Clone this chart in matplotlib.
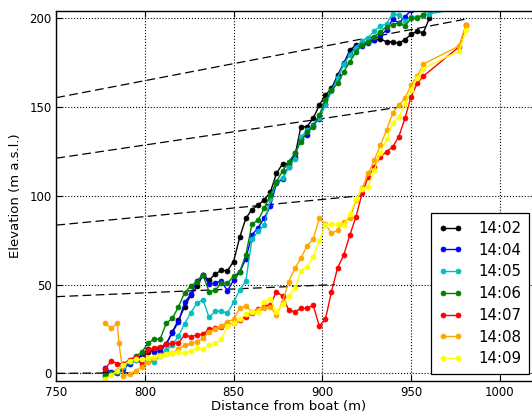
import matplotlib
matplotlib.use('Agg')
import matplotlib.pyplot as plt

plt.rcParams['font.family'] = ['DejaVu Sans']

# distance from boat (m), common sampling of the profiles
dist = [777.50, 780.95, 784.40, 787.85, 791.30, 794.75, 798.20, 801.65, 805.10, 808.55,
        812.00, 815.45, 818.90, 822.35, 825.80, 829.25, 832.70, 836.15, 839.60, 843.05,
        846.50, 849.95, 853.40, 856.85, 860.30, 863.75, 867.20, 870.65, 874.10, 877.55,
        881.00, 884.45, 887.90, 891.35, 894.80, 898.25, 901.70, 905.15, 908.60, 912.05,
        915.50, 918.95, 922.40, 925.85, 929.30, 932.75, 936.20, 939.65, 943.10, 946.55,
        950.00, 953.45, 956.90, 960.35, 963.80, 967.25]

# elevation (m a.s.l.) per time
elev_1402 = [0.5, 0.4, 1.5, 4.3, 7.0, 8.5, 10.0, 12.0, 13.0, 14.5,
             16.5, 23.5, 30.0, 37.5, 44.0, 49.0, 55.4, 52.5, 56.0, 58.0,
             57.8, 63.0, 76.6, 87.3, 92.3, 94.8, 97.6, 102.0, 112.6, 118.0,
             118.0, 122.0, 139.0, 139.0, 143.6, 151.0, 156.7, 160.5, 168.0, 174.6,
             182.0, 185.0, 186.0, 186.8, 187.7, 188.3, 186.8, 186.8, 186.0, 188.0,
             190.9, 192.8, 191.8, 200.0, 208.5]
elev_1404 = [3.2, 0.5, 0.0, 2.5, 5.5, 7.5, 9.5, 14.0, 12.0, 12.5,
             16.5, 23.0, 29.0, 40.0, 44.5, 52.0, 55.5, 50.5, 51.0, 52.0,
             46.5, 52.5, 57.0, 64.5, 78.0, 82.0, 87.5, 94.0, 107.0, 109.5,
             116.5, 124.0, 132.0, 134.5, 140.0, 143.5, 152.0, 159.5, 167.0, 174.5,
             180.0, 183.9, 184.3, 186.1, 188.0, 190.5, 193.3, 199.5, 197.4, 200.8,
             204.5, 210.0]
elev_1405 = [-1.9, -0.5, 0.5, 3.8, 6.6, 7.5, 7.5, 7.0, 6.6, 9.8,
             13.1, 16.0, 21.0, 28.0, 34.0, 39.5, 41.5, 31.5, 35.0, 35.0,
             34.0, 40.0, 47.0, 52.0, 75.5, 80.0, 83.5, 98.0, 108.0, 110.0,
             116.0, 121.0, 133.0, 137.0, 139.5, 144.0, 151.0, 159.0, 166.5, 174.0,
             179.5, 183.5, 187.5, 189.0, 193.0, 195.5, 197.0, 202.7, 201.8, 198.6,
             200.5, 201.0, 201.8, 202.5]
elev_1406 = [-0.9, 0.0, 1.0, 5.0, 7.5, 9.5, 12.0, 16.9, 19.3, 19.3,
             28.2, 31.0, 37.5, 45.4, 49.2, 51.6, 55.4, 46.0, 46.9, 50.7,
             50.7, 54.8, 57.2, 66.6, 84.1, 86.3, 92.9, 100.4, 108.0, 113.9,
             119.2, 123.9, 130.5, 136.1, 138.9, 145.5, 153.9, 159.6, 163.3, 169.9,
             175.5, 181.1, 184.9, 186.8, 189.6, 192.4, 195.2, 196.5, 197.5, 195.6,
             199.9, 199.9, 201.8, 206.0, 211.0]
elev_1407 = [2.5, 7.0, 5.5, 5.5, 7.5, 9.0, 5.0, 13.0, 14.5, 15.0,
             16.5, 16.9, 17.2, 21.6, 20.6, 21.6, 22.0, 25.0, 25.5, 26.0,
             27.0, 28.2, 30.0, 32.0, 34.0, 36.5, 37.9, 38.5, 46.0, 43.5,
             35.7, 34.7, 36.6, 36.6, 38.5, 26.7, 30.4, 46.0, 59.5, 66.6,
             77.9, 88.2, 101.4, 110.7, 116.4, 122.0, 124.8, 127.6, 133.3, 143.6,
             155.8, 163.3, 167.4]
elev_1408 = [28.5, 25.3, 28.2, -1.5, -0.4, 1.5, 3.8, 6.6, 8.4, 10.3,
             10.8, 11.6, 13.5, 16.0, 16.9, 17.8, 19.7, 23.5, 24.8, 26.7,
             29.1, 30.4, 36.6, 37.9, 34.7, 35.7, 36.6, 37.5, 32.8, 40.4,
             51.6, 59.1, 64.8, 71.9, 75.5, 87.3, 84.1, 78.8, 80.7, 85.4,
             87.3, 97.6, 104.2, 112.6, 120.1, 128.6, 137.0, 146.4, 151.1, 154.9,
             162.4, 167.4, 174.2]
elev_1409 = [-3.2, -1.0, 1.5, 4.5, 7.1, 7.9, 7.9, 8.4, 9.0, 9.8,
             10.9, 11.6, 12.2, 11.3, 12.8, 14.1, 13.5, 16.0, 16.9, 19.1,
             26.7, 28.2, 30.4, 33.4, 34.7, 34.7, 40.4, 41.7, 34.7, 39.0,
             43.5, 47.9, 57.8, 60.1, 65.7, 74.7, 83.5, 84.1, 84.1, 83.5,
             89.7, 98.0, 103.6, 105.1, 114.5, 124.3, 131.8, 141.2, 144.2, 152.0,
             159.6, 166.1, 171.7]

# extra points off the common sampling
tail_1405 = ([990.0], [208.0])
drop_1408 = (785.3, 17.3)
tail_dist = [977.2, 981.0]
tail_1407 = [184.0, 196.1]
tail_1408 = [184.5, 196.5]
tail_1409 = [181.7, 193.3]

times = ['14:02', '14:04', '14:05', '14:06', '14:07', '14:08', '14:09']
colours = ['k', 'b', '#00bfbf', '#008000', 'r', '#ffa500', '#ffff00']

# dashed sight lines: elevation at the left edge, end point
sight_y0 = [155.3, 121.2, 83.5, 43.2, 0.0]
sight_x1 = [981.0, 947.0, 921.0, 907.0, 792.0]
sight_y1 = [199.6, 150.5, 100.0, 50.0, 0.3]

xs = [dist[:len(elev_1402)],
      dist[:len(elev_1404)],
      dist[:len(elev_1405)] + tail_1405[0],
      dist[:len(elev_1406)],
      dist[:len(elev_1407)] + tail_dist,
      dist[:3] + [drop_1408[0]] + dist[3:len(elev_1408)] + tail_dist,
      dist[:len(elev_1409)] + tail_dist]
ys = [elev_1402,
      elev_1404,
      elev_1405 + tail_1405[1],
      elev_1406,
      elev_1407 + tail_1407,
      elev_1408[:3] + [drop_1408[1]] + elev_1408[3:] + tail_1408,
      elev_1409 + tail_1409]

fig = plt.figure(figsize=(5.32, 4.19), dpi=100)
ax = fig.add_axes([0.1058, 0.0907, 0.9062, 0.8838])

for y0, x1, y1 in zip(sight_y0, sight_x1, sight_y1):
    ax.plot([750, x1], [y0, y1], color='k', lw=0.9, dashes=(7, 3.5), zorder=1)

for t, c, x, y in zip(times, colours, xs, ys):
    ax.plot(x, y, '-o', color=c, mec=c, lw=1.0, ms=3.6, mew=0.5, label=t, zorder=2)

ax.set_xlim(750, 1021.8)
ax.set_ylim(-4.3, 204.3)
ax.set_xticks([750, 800, 850, 900, 950, 1000])
ax.set_yticks([0, 50, 100, 150, 200])
ax.grid(True, color='k', linestyle=':', linewidth=0.8)
ax.tick_params(direction='in', top=True, right=True, length=4, width=0.8,
               labelsize=8.5, pad=3.5)
for s in ax.spines.values():
    s.set_linewidth(1.0)

ax.set_xlabel('Distance from boat (m)', fontsize=9.5)
ax.set_ylabel('Elevation (m a.s.l.)', fontsize=9.5)
ax.xaxis.set_label_coords(0.4812, -0.050)
ax.yaxis.set_label_coords(-0.0705, 0.5)

leg = ax.legend(loc='lower right', bbox_to_anchor=(0.981, 0.019), borderaxespad=0,
                numpoints=2, fontsize=10.8, handlelength=1.6, handletextpad=1.1,
                labelspacing=0.45, borderpad=0.5, fancybox=False, framealpha=1,
                edgecolor='k')
leg.get_frame().set_linewidth(0.9)

fig.savefig('out.png', dpi=100)
